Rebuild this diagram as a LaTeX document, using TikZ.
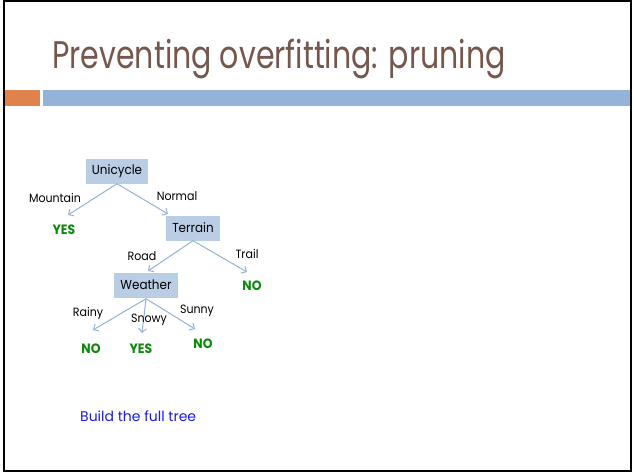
\documentclass[tikz,border=0pt]{standalone}
\usepackage{fontspec}
\setmainfont{Poppins}
\newfontfamily\titlefont[FakeStretch=0.78]{Poppins}
\newfontfamily\narrowfont[FakeStretch=0.92]{Poppins}
\usetikzlibrary{arrows.meta}
\definecolor{titlebrown}{HTML}{76574D}
\definecolor{barorange}{HTML}{E0834A}
\definecolor{barblue}{HTML}{95B3D7}
\definecolor{boxfill}{HTML}{B9CDE5}
\definecolor{edgeblue}{HTML}{95B3D7}
\definecolor{leafgreen}{HTML}{0A8A0A}
\definecolor{noteblue}{HTML}{1A1AF0}
\tikzset{
  px/.style={x=1pt,y=-1pt},
  test/.style={fill=boxfill, inner xsep=6pt, inner ysep=0pt, minimum height=25pt, font=\narrowfont\fontsize{13}{15}\selectfont},
  leaf/.style={text=leafgreen, font=\narrowfont\fontsize{13.5}{15}\selectfont\bfseries},
  elabel/.style={font=\narrowfont\fontsize{12}{14}\selectfont, inner sep=0pt},
  branch/.style={draw=edgeblue, line width=1pt, -{Straight Barb[length=4pt,width=8pt]}}
}
\begin{document}
\begin{tikzpicture}[px]
\useasboundingbox (0,0) rectangle (634,474);
\fill[white] (0,0) rectangle (634,474);
% slide frame
\draw[black, line width=2pt] (4,0.5) -- (630.5,0.5) -- (630.5,471) -- (4,471) -- cycle;
% title
\node[anchor=base west, text=titlebrown, inner sep=0pt, font=\titlefont\fontsize{38.5}{44}\selectfont] (title) at (52,68) {Preventing overfitting: pruning};
% header bars
\fill[barorange] (5,90) rectangle (40,105.5);
\fill[barblue] (43,90) rectangle (629.5,105.5);
% decision tree
\node[test] (uni) at (117,171) {Unicycle};
\node[test] (ter) at (193,228) {Terrain};
\node[test] (wea) at (146,285) {Weather};
\node[leaf] (yes1) at (64,230) {YES};
\node[leaf] (no1) at (252,286) {NO};
\node[leaf] (no2) at (91,349) {NO};
\node[leaf] (yes2) at (141,349) {YES};
\node[leaf] (no3) at (203,344) {NO};
\coordinate (ua) at (68,215);
\coordinate (ub) at (168,214);
\coordinate (ta) at (148,271);
\coordinate (tb) at (247,272);
\coordinate (wa) at (93,330);
\coordinate (wb) at (142,333);
\coordinate (wc) at (195,329);
\draw[branch] (uni.south) -- (ua);
\draw[branch] (uni.south) -- (ub);
\draw[branch] (ter.south) -- (ta);
\draw[branch] (ter.south) -- (tb);
\draw[branch] ([yshift=-1pt]wea.south) -- (wa);
\draw[branch] ([yshift=-1pt]wea.south) -- (wb);
\draw[branch] ([yshift=-1pt]wea.south) -- (wc);
\node[elabel] (lm) at (55,198) {Mountain};
\node[elabel] (ln) at (177,196) {Normal};
\node[elabel] (lr) at (142,256) {Road};
\node[elabel] (lt) at (247,254) {Trail};
\node[elabel] (lra) at (88,313) {Rainy};
\node[elabel] (ls) at (149,320) {Snowy};
\node[elabel] (lsu) at (197,311) {Sunny};
% note
\node[anchor=west, text=noteblue, inner sep=0pt, font=\fontsize{14}{17}\selectfont] (note) at (80,416) {Build the full tree};
\end{tikzpicture}
\end{document}
